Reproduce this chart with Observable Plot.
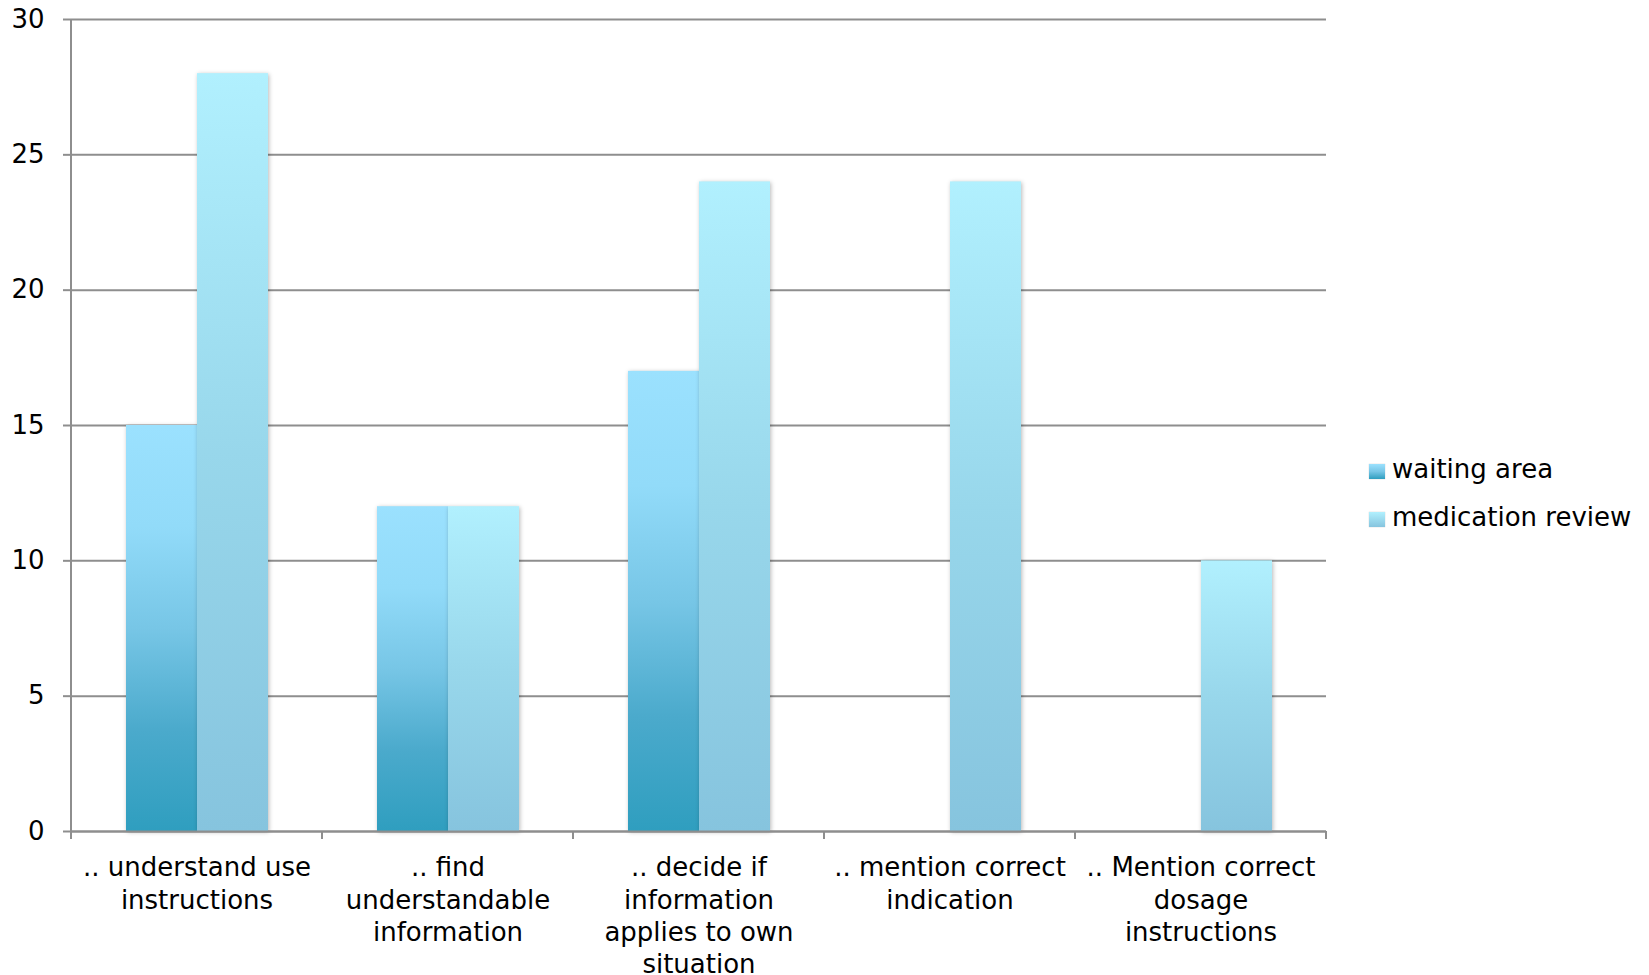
<!DOCTYPE html>
<html>
<head>
<meta charset="utf-8">
<script src="https://cdn.jsdelivr.net/npm/d3@7"></script>
<script src="https://cdn.jsdelivr.net/npm/@observablehq/plot@0.6"></script>
<style>
  html, body { margin: 0; padding: 0; background: #fff; }
  #wrap { position: relative; width: 1649px; height: 975px; }
  #wrap svg { display: block; }
  #legend { position: absolute; left: 1369px; top: 445px; font-family: "DejaVu Sans", Verdana, sans-serif; font-size: 26px; color: #000; }
  #legend .item { height: 48px; line-height: 48px; white-space: nowrap; }
  #legend .sw { display: inline-block; width: 16px; height: 15px; margin-right: 7px; vertical-align: -1px; box-shadow: 0 0 1px rgba(0,0,0,0.25); }
</style>
</head>
<body>
<div id="wrap"></div>
<script>
// ---- data ----
const categories = [
  ".. understand use\ninstructions",
  ".. find\nunderstandable\ninformation",
  ".. decide if\ninformation\napplies to own\nsituation",
  ".. mention correct\nindication",
  ".. Mention correct\ndosage\ninstructions"
];
const series = ["waiting area", "medication review"];
const waitingArea = [15, 12, 17, null, null];
const medicationReview = [28, 12, 24, 24, 10];
const yTicks = [0, 5, 10, 15, 20, 25, 30];

const data = categories.flatMap((c, i) => [
  {category: c, series: series[0], value: waitingArea[i]},
  {category: c, series: series[1], value: medicationReview[i]}
]).filter(d => d.value != null);

const gridColor = "#8e8e8e";

const plot = Plot.plot({
  width: 1649,
  height: 975,
  marginLeft: 69,
  marginRight: 321,
  marginTop: 19,
  marginBottom: 144,
  style: {fontFamily: "DejaVu Sans, Verdana, sans-serif", fontSize: "26px", color: "#000", background: "#fff"},
  fx: {domain: categories, padding: 0, label: null},
  x: {domain: series, paddingInner: 0, paddingOuter: 0.76, axis: null},
  y: {domain: [0, 30]},
  color: {domain: series, range: ["url(#gWait)", "url(#gMed)"]},
  marks: [
    Plot.gridY(yTicks, {stroke: gridColor, strokeOpacity: 1, strokeWidth: 2}),
    Plot.barY(data, {fx: "category", x: "series", y: "value", fill: "series"}),
    Plot.ruleY([0], {stroke: gridColor, strokeWidth: 2}),
    Plot.axisY({ticks: yTicks, tickSize: 8, tickPadding: 19, stroke: gridColor, strokeWidth: 2, label: null, fontSize: 26}),
    Plot.axisFx({anchor: "bottom", tickSize: 0, tickPadding: 22, label: null, lineHeight: 1.24, fontSize: 26, tickFormat: d => d})
  ]
});

const svg = d3.select(plot);
const defs = svg.insert("defs", ":first-child");
const gw = defs.append("linearGradient").attr("id", "gWait").attr("x1", 0).attr("y1", 0).attr("x2", 0).attr("y2", 1);
[[0, "#9BE1FE"], [0.25, "#92DBF9"], [0.5, "#77C6E6"], [0.75, "#4BAACC"], [1, "#2F9EBF"]]
  .forEach(([o, c]) => gw.append("stop").attr("offset", o).attr("stop-color", c));
const gm = defs.append("linearGradient").attr("id", "gMed").attr("x1", 0).attr("y1", 0).attr("x2", 0).attr("y2", 1);
[[0, "#B1F0FE"], [0.5, "#98D7EB"], [1, "#86C4DE"]]
  .forEach(([o, c]) => gm.append("stop").attr("offset", o).attr("stop-color", c));

svg.selectAll('g[aria-label="bar"] rect').style("filter", "drop-shadow(1px 1px 2px rgba(0,0,0,0.28))");

// axis lines & category boundary ticks using the plot's scales
const fx = plot.scale("fx");
const y = plot.scale("y");
const y0 = y.apply(0), yTop = y.apply(30);
const bounds = categories.map(c => fx.apply(c)).concat([fx.apply(categories[categories.length - 1]) + fx.bandwidth]);
const ag = svg.append("g").attr("stroke", gridColor).attr("stroke-width", 2);
ag.append("line").attr("x1", bounds[0]).attr("x2", bounds[0]).attr("y1", yTop).attr("y2", y0 + 8);
bounds.forEach(b => ag.append("line").attr("x1", b).attr("x2", b).attr("y1", y0).attr("y2", y0 + 8));

document.getElementById("wrap").appendChild(plot);

// legend
const legend = d3.select("#wrap").append("div").attr("id", "legend");
const swFill = ["linear-gradient(#9BE1FE, #77C6E6 50%, #2F9EBF)", "linear-gradient(#B1F0FE, #86C4DE)"];
series.forEach((s, i) => {
  const it = legend.append("div").attr("class", "item");
  it.append("span").attr("class", "sw").style("background", swFill[i]);
  it.append("span").text(s);
});
</script>
</body>
</html>
